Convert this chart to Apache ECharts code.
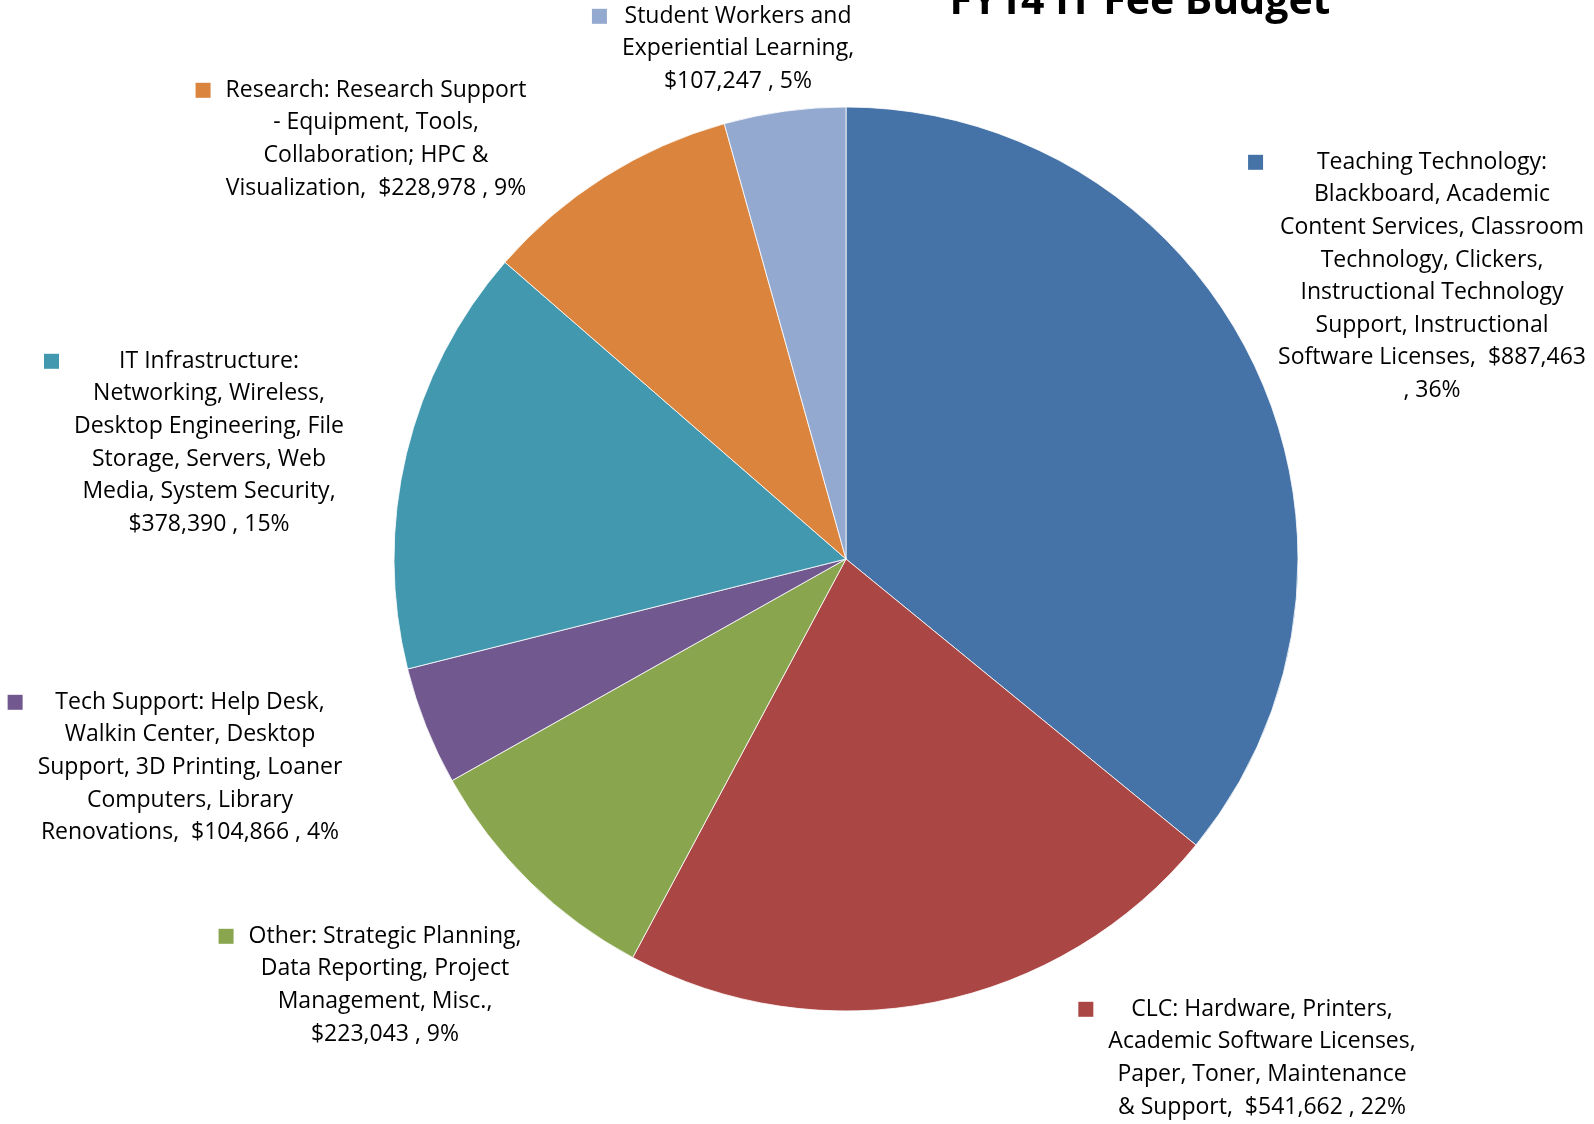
<!DOCTYPE html>
<html>
<head>
<meta charset="utf-8">
<title>FY14 IT Fee Budget</title>
<script src="https://cdn.jsdelivr.net/npm/echarts@6/dist/echarts.min.js"></script>
<style>
  html, body { margin: 0; padding: 0; background: #fff; }
  #chart { width: 1594px; height: 1124px; }
</style>
</head>
<body>
<div id="chart"></div>
<script>
const categories = [
  'Teaching Technology: Blackboard, Academic Content Services, Classroom Technology, Clickers, Instructional Technology Support, Instructional Software Licenses',
  'CLC: Hardware, Printers, Academic Software Licenses, Paper, Toner, Maintenance & Support',
  'Other: Strategic Planning, Data Reporting, Project Management, Misc.',
  'Tech Support: Help Desk, Walkin Center, Desktop Support, 3D Printing, Loaner Computers, Library Renovations',
  'IT Infrastructure: Networking, Wireless, Desktop Engineering, File Storage, Servers, Web Media, System Security',
  'Research: Research Support - Equipment, Tools, Collaboration; HPC & Visualization',
  'Student Workers and Experiential Learning'
]
const values = [887463, 541662, 223043, 104866, 378390, 228978, 107247]
const colors = ['#4573A7', '#AA4643', '#89A54E', '#71588F', '#4198AF', '#DB843D', '#93A9CF']

// wrapped label text, {v} = value, {p} = percent
const labelRows = [
  ['Teaching Technology:', 'Blackboard, Academic', 'Content Services, Classroom', 'Technology, Clickers,',
    'Instructional Technology', 'Support, Instructional', 'Software Licenses,  {v}', ', {p}%'],
  ['CLC: Hardware, Printers,', 'Academic Software Licenses,', 'Paper, Toner, Maintenance', '& Support,  {v} , {p}%'],
  ['Other: Strategic Planning,', 'Data Reporting, Project', 'Management, Misc.,', '{v} , {p}%'],
  ['Tech Support: Help Desk,', 'Walkin Center, Desktop', 'Support, 3D Printing, Loaner', 'Computers, Library',
    'Renovations,  {v} , {p}%'],
  ['IT Infrastructure:', 'Networking, Wireless,', 'Desktop Engineering, File', 'Storage, Servers, Web',
    'Media, System Security,', '{v} , {p}%'],
  ['Research: Research Support', '- Equipment, Tools,', 'Collaboration; HPC &', 'Visualization,  {v} , {p}%'],
  ['Student Workers and', 'Experiential Learning,', '{v} , {p}%']
]
// label block centre x / top y
const labelX = [1432, 1262, 385, 190, 209, 376, 738]
const labelTop = [146, 993, 920, 686, 345, 74, 0]

const LH = 32.6
const rich = {
  t: { fontFamily: 'Open Sans', fontSize: 23, lineHeight: LH, color: '#000', align: 'center' },
  pl: { width: 30, lineHeight: LH, align: 'left' },
  pr: { width: 30, lineHeight: LH, align: 'right' },
  gap: { width: 15, lineHeight: LH, align: 'left' }
}
colors.forEach((c, i) => {
  rich['mk' + i] = { width: 15, height: 15, lineHeight: LH, backgroundColor: c, align: 'left' }
})

const chart = echarts.init(document.getElementById('chart'))
const option = {
  backgroundColor: '#fff',
  animation: false,
  color: colors,
  graphic: [{
    type: 'text',
    x: 1140,
    y: 2,
    style: {
      text: 'FY14 IT Fee Budget',
      fontFamily: 'Open Sans',
      fontWeight: 'bold',
      fontSize: 41,
      fill: '#000',
      align: 'center',
      verticalAlign: 'middle'
    }
  }],
  series: [
    {
      type: 'pie',
      center: [846, 559],
      radius: 452,
      startAngle: 90,
      clockwise: true,
      percentPrecision: 0,
      avoidLabelOverlap: false,
      itemStyle: { borderColor: '#fff', borderWidth: 0.8 },
      emphasis: { disabled: true },
      label: {
        show: true,
        position: 'inside',
        color: '#000',
        rich: rich,
        formatter: (p) => {
          const i = p.dataIndex
          const v = '$' + echarts.format.addCommas(p.value)
          return labelRows[i].map((row, k) => {
            const txt = row.replace('{v}', v).replace('{p}', p.percent)
            const left = k === 0 ? '{mk' + i + '|}{gap|}' : '{pl|}'
            return left + '{t|' + txt + '}{pr|}'
          }).join('\n')
        }
      },
      labelLine: { show: false },
      labelLayout: (params) => ({
        x: labelX[params.dataIndex],
        y: labelTop[params.dataIndex],
        align: 'center',
        verticalAlign: 'top'
      }),
      data: categories.map((name, i) => ({ name: name, value: values[i] }))
    }
  ]
}
chart.setOption(option)
</script>
</body>
</html>
